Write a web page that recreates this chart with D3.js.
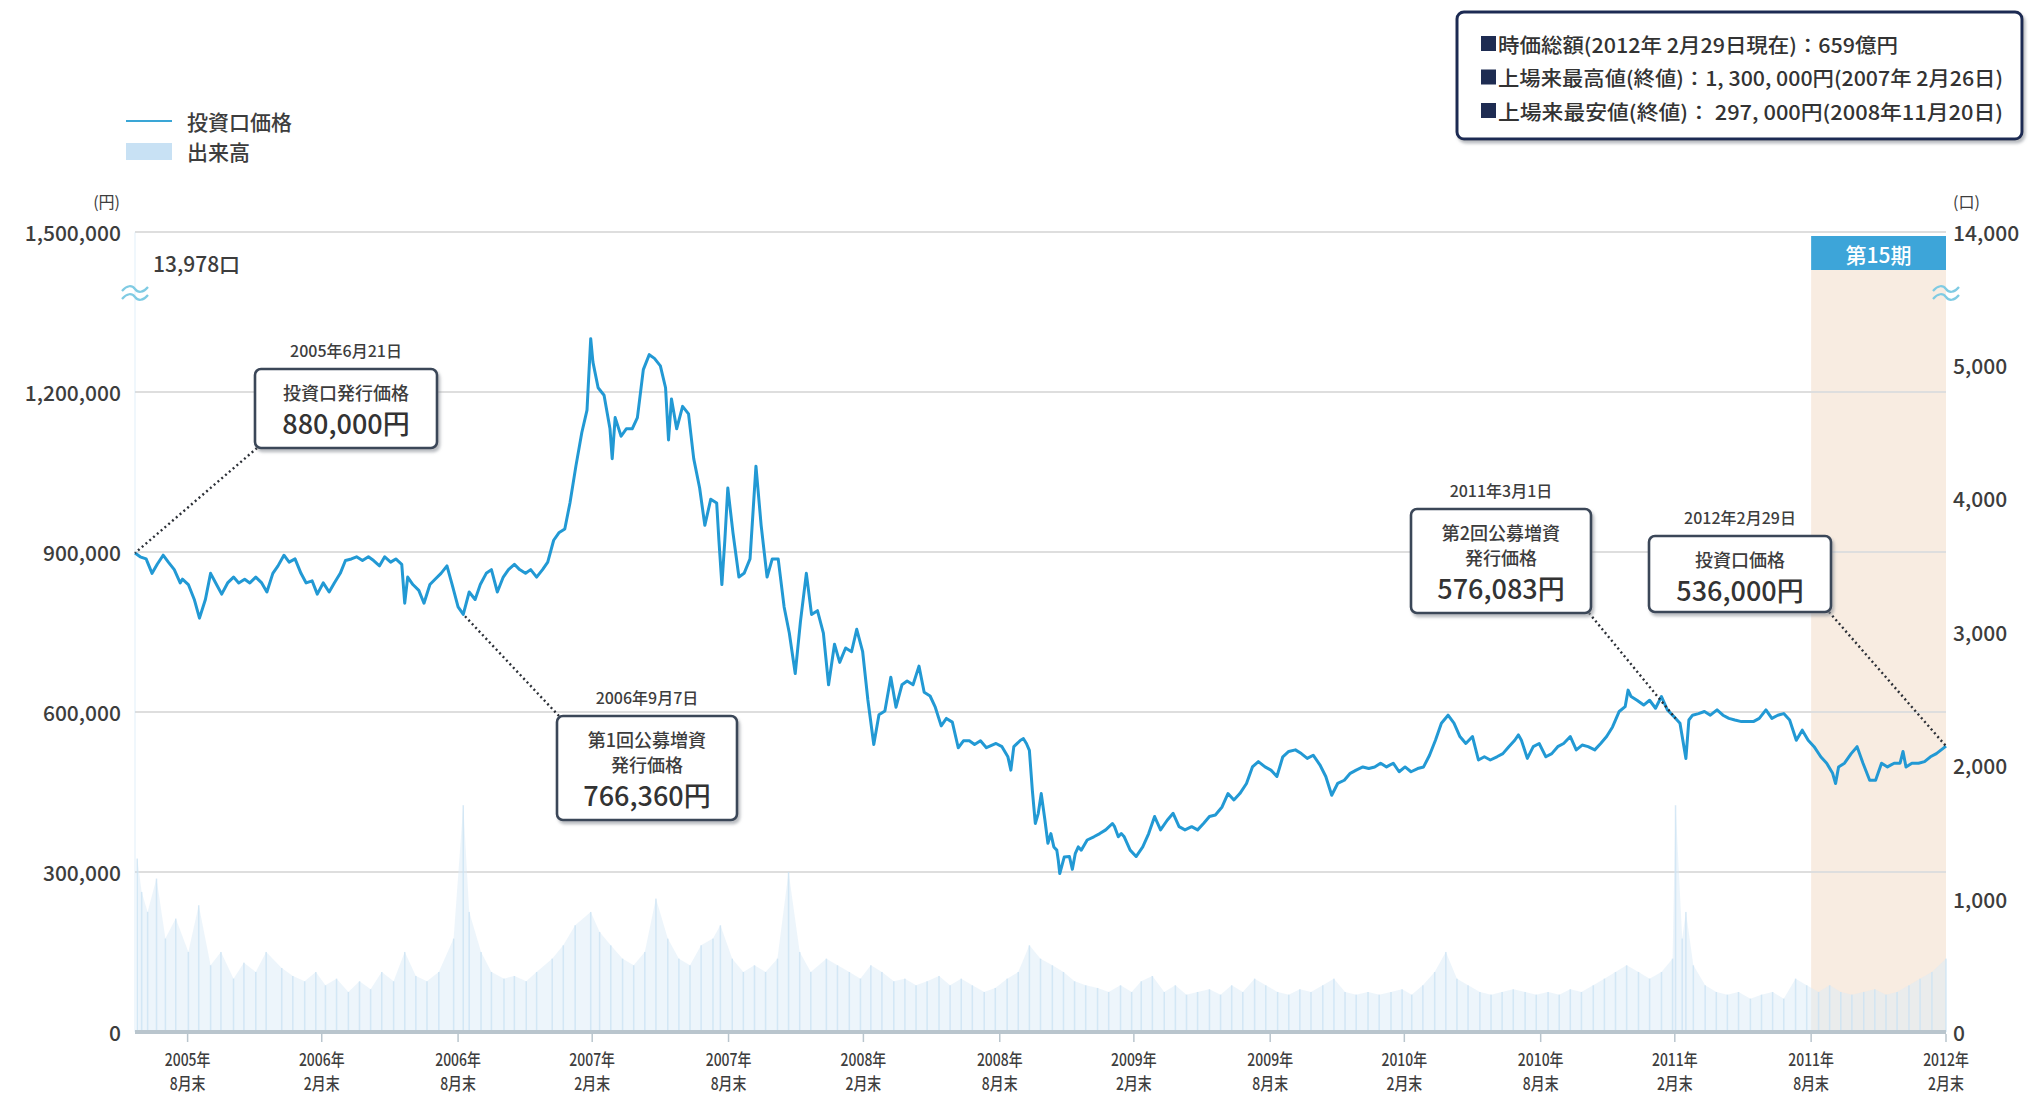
<!DOCTYPE html>
<html>
<head>
<meta charset="utf-8">
<script src="https://cdn.jsdelivr.net/npm/d3@7"></script>
<style>
  html, body { margin: 0; padding: 0; background: #ffffff; }
  svg { display: block; }
  text { font-family: "Noto Sans CJK JP", "Noto Sans", sans-serif; }
</style>
</head>
<body>
<svg id="chart" width="2031" height="1098"></svg>
<script>
// ---- data ---------------------------------------------------------------
// closing price of one unit (円)
const priceSeries = [
  ["2005-06-21", 898000], ["2005-06-28", 891000], ["2005-07-06", 887000], ["2005-07-14", 860000],
  ["2005-07-21", 877000], ["2005-07-29", 894000], ["2005-08-05", 881000], ["2005-08-13", 867000],
  ["2005-08-21", 842000], ["2005-08-24", 849000], ["2005-09-01", 839000], ["2005-09-09", 811000],
  ["2005-09-16", 776000], ["2005-09-24", 811000], ["2005-10-01", 860000], ["2005-10-09", 839000],
  ["2005-10-16", 821000], ["2005-10-24", 842000], ["2005-11-01", 853000], ["2005-11-08", 842000],
  ["2005-11-16", 849000], ["2005-11-23", 842000], ["2005-12-01", 853000], ["2005-12-09", 842000],
  ["2005-12-16", 825000], ["2005-12-24", 860000], ["2005-12-31", 874000], ["2006-01-08", 894000],
  ["2006-01-15", 881000], ["2006-01-23", 887000], ["2006-01-31", 860000], ["2006-02-07", 842000],
  ["2006-02-15", 846000], ["2006-02-22", 821000], ["2006-03-02", 842000], ["2006-03-10", 825000],
  ["2006-03-17", 842000], ["2006-03-25", 860000], ["2006-04-01", 884000], ["2006-04-09", 887000],
  ["2006-04-16", 891000], ["2006-04-24", 884000], ["2006-05-02", 891000], ["2006-05-09", 884000],
  ["2006-05-17", 874000], ["2006-05-24", 891000], ["2006-06-01", 881000], ["2006-06-08", 887000],
  ["2006-06-16", 877000], ["2006-06-20", 804000], ["2006-06-24", 853000], ["2006-07-01", 839000],
  ["2006-07-09", 828000], ["2006-07-16", 804000], ["2006-07-24", 839000], ["2006-07-31", 849000],
  ["2006-08-08", 860000], ["2006-08-16", 874000], ["2006-08-23", 839000], ["2006-08-31", 797000],
  ["2006-09-07", 783000], ["2006-09-15", 825000], ["2006-09-23", 811000], ["2006-09-30", 839000],
  ["2006-10-08", 860000], ["2006-10-15", 867000], ["2006-10-23", 825000], ["2006-10-31", 853000],
  ["2006-11-07", 867000], ["2006-11-15", 877000], ["2006-11-22", 867000], ["2006-11-30", 860000],
  ["2006-12-07", 867000], ["2006-12-15", 853000], ["2006-12-23", 867000], ["2006-12-30", 881000],
  ["2007-01-07", 922000], ["2007-01-14", 936000], ["2007-01-22", 943000], ["2007-01-29", 992000],
  ["2007-02-06", 1061000], ["2007-02-14", 1124000], ["2007-02-21", 1166000], ["2007-02-26", 1300000],
  ["2007-03-01", 1256000], ["2007-03-08", 1208000], ["2007-03-16", 1194000], ["2007-03-24", 1131000],
  ["2007-03-27", 1075000], ["2007-03-31", 1152000], ["2007-04-08", 1117000], ["2007-04-15", 1131000],
  ["2007-04-23", 1131000], ["2007-04-30", 1152000], ["2007-05-08", 1242000], ["2007-05-16", 1270000],
  ["2007-05-23", 1263000], ["2007-05-31", 1249000], ["2007-06-07", 1208000], ["2007-06-11", 1110000],
  ["2007-06-15", 1187000], ["2007-06-22", 1131000], ["2007-06-30", 1173000], ["2007-07-08", 1159000],
  ["2007-07-15", 1075000], ["2007-07-23", 1020000], ["2007-07-30", 950000], ["2007-08-07", 999000],
  ["2007-08-15", 992000], ["2007-08-18", 922000], ["2007-08-22", 839000], ["2007-08-26", 922000],
  ["2007-08-30", 1020000], ["2007-09-06", 936000], ["2007-09-14", 853000], ["2007-09-21", 860000],
  ["2007-09-29", 887000], ["2007-10-07", 1061000], ["2007-10-14", 950000], ["2007-10-22", 853000],
  ["2007-10-29", 887000], ["2007-11-06", 887000], ["2007-11-14", 797000], ["2007-11-21", 748000],
  ["2007-11-29", 672000], ["2007-12-06", 769000], ["2007-12-14", 860000], ["2007-12-21", 783000],
  ["2007-12-29", 790000], ["2008-01-06", 748000], ["2008-01-13", 651000], ["2008-01-21", 727000],
  ["2008-01-28", 693000], ["2008-02-05", 720000], ["2008-02-13", 713000], ["2008-02-20", 755000],
  ["2008-02-28", 713000], ["2008-03-06", 623000], ["2008-03-14", 539000], ["2008-03-21", 595000],
  ["2008-03-29", 602000], ["2008-04-06", 665000], ["2008-04-13", 609000], ["2008-04-21", 651000],
  ["2008-04-28", 658000], ["2008-05-06", 651000], ["2008-05-14", 686000], ["2008-05-21", 637000],
  ["2008-05-29", 630000], ["2008-06-05", 609000], ["2008-06-13", 574000], ["2008-06-20", 588000],
  ["2008-06-28", 581000], ["2008-07-06", 533000], ["2008-07-13", 546000], ["2008-07-21", 546000],
  ["2008-07-28", 539000], ["2008-08-05", 546000], ["2008-08-13", 533000], ["2008-08-26", 541000],
  ["2008-09-03", 535000], ["2008-09-11", 516000], ["2008-09-15", 491000], ["2008-09-19", 535000],
  ["2008-09-28", 547000], ["2008-10-02", 550000], ["2008-10-06", 541000], ["2008-10-10", 528000],
  ["2008-10-14", 453000], ["2008-10-18", 391000], ["2008-10-22", 410000], ["2008-10-26", 447000],
  ["2008-10-31", 397000], ["2008-11-04", 354000], ["2008-11-08", 372000], ["2008-11-12", 347000],
  ["2008-11-16", 341000], ["2008-11-18", 322000], ["2008-11-20", 297000], ["2008-11-26", 328000],
  ["2008-12-03", 329000], ["2008-12-07", 305000], ["2008-12-11", 335000], ["2008-12-15", 347000],
  ["2008-12-19", 341000], ["2008-12-27", 360000], ["2009-01-05", 366000], ["2009-01-13", 372000],
  ["2009-01-21", 379000], ["2009-01-30", 391000], ["2009-02-02", 385000], ["2009-02-07", 366000],
  ["2009-02-11", 372000], ["2009-02-15", 366000], ["2009-02-23", 341000], ["2009-03-03", 329000],
  ["2009-03-12", 347000], ["2009-03-20", 372000], ["2009-03-28", 404000], ["2009-04-05", 379000],
  ["2009-04-14", 397000], ["2009-04-22", 410000], ["2009-04-30", 385000], ["2009-05-08", 379000],
  ["2009-05-17", 385000], ["2009-05-25", 379000], ["2009-06-02", 391000], ["2009-06-10", 404000],
  ["2009-06-18", 407000], ["2009-06-27", 422000], ["2009-07-05", 447000], ["2009-07-13", 435000],
  ["2009-07-21", 447000], ["2009-07-30", 466000], ["2009-08-07", 497000], ["2009-08-15", 507000],
  ["2009-08-24", 497000], ["2009-09-01", 491000], ["2009-09-09", 479000], ["2009-09-17", 516000],
  ["2009-09-25", 526000], ["2009-10-04", 529000], ["2009-10-12", 522000], ["2009-10-20", 513000],
  ["2009-10-28", 519000], ["2009-11-06", 501000], ["2009-11-14", 479000], ["2009-11-22", 444000],
  ["2009-11-30", 466000], ["2009-12-09", 472000], ["2009-12-17", 485000], ["2009-12-25", 491000],
  ["2010-01-03", 497000], ["2010-01-11", 494000], ["2010-01-19", 497000], ["2010-01-27", 504000],
  ["2010-02-04", 497000], ["2010-02-13", 504000], ["2010-02-21", 488000], ["2010-03-01", 497000],
  ["2010-03-09", 488000], ["2010-03-18", 494000], ["2010-03-26", 497000], ["2010-04-03", 519000],
  ["2010-04-11", 547000], ["2010-04-19", 579000], ["2010-04-28", 594000], ["2010-05-06", 579000],
  ["2010-05-14", 554000], ["2010-05-22", 541000], ["2010-05-31", 554000], ["2010-06-08", 510000],
  ["2010-06-16", 516000], ["2010-06-24", 510000], ["2010-07-03", 516000], ["2010-07-11", 522000],
  ["2010-07-19", 535000], ["2010-07-27", 547000], ["2010-08-01", 557000], ["2010-08-05", 547000],
  ["2010-08-13", 513000], ["2010-08-21", 535000], ["2010-08-29", 541000], ["2010-09-07", 516000],
  ["2010-09-15", 522000], ["2010-09-23", 535000], ["2010-10-01", 541000], ["2010-10-10", 554000],
  ["2010-10-18", 529000], ["2010-10-26", 538000], ["2010-11-03", 535000], ["2010-11-12", 529000],
  ["2010-11-20", 541000], ["2010-11-28", 554000], ["2010-12-06", 572000], ["2010-12-15", 601000],
  ["2010-12-23", 610000], ["2010-12-27", 641000], ["2010-12-31", 629000], ["2011-01-08", 622000],
  ["2011-01-17", 613000], ["2011-01-25", 622000], ["2011-02-02", 607000], ["2011-02-10", 629000],
  ["2011-02-18", 604000], ["2011-02-27", 591000], ["2011-03-07", 579000], ["2011-03-15", 513000],
  ["2011-03-19", 585000], ["2011-03-24", 594000], ["2011-04-01", 597000], ["2011-04-09", 601000],
  ["2011-04-17", 594000], ["2011-04-26", 604000], ["2011-05-04", 594000], ["2011-05-12", 588000],
  ["2011-05-20", 585000], ["2011-05-29", 582000], ["2011-06-06", 582000], ["2011-06-14", 582000],
  ["2011-06-22", 588000], ["2011-07-01", 604000], ["2011-07-09", 588000], ["2011-07-17", 594000],
  ["2011-07-25", 597000], ["2011-08-02", 585000], ["2011-08-11", 547000], ["2011-08-19", 566000],
  ["2011-08-27", 547000], ["2011-09-04", 535000], ["2011-09-13", 516000], ["2011-09-21", 504000],
  ["2011-09-29", 485000], ["2011-10-03", 466000], ["2011-10-07", 497000], ["2011-10-15", 504000],
  ["2011-10-24", 522000], ["2011-11-01", 535000], ["2011-11-09", 504000], ["2011-11-18", 472000],
  ["2011-11-26", 472000], ["2011-12-04", 504000], ["2011-12-12", 497000], ["2011-12-21", 504000],
  ["2011-12-29", 504000], ["2012-01-02", 526000], ["2012-01-06", 497000], ["2012-01-14", 504000],
  ["2012-01-23", 504000], ["2012-01-31", 507000], ["2012-02-08", 516000], ["2012-02-16", 522000],
  ["2012-02-29", 536000]
];

// trading volume (口)
const volumeSeries = [
  ["2005-06-21", 13978], ["2005-06-24", 1300], ["2005-06-30", 1050], ["2005-07-08", 900],
  ["2005-07-20", 1150], ["2005-08-01", 700], ["2005-08-15", 850], ["2005-09-01", 600],
  ["2005-09-15", 950], ["2005-10-01", 500], ["2005-10-15", 600], ["2005-11-01", 400],
  ["2005-11-15", 520], ["2005-12-01", 450], ["2005-12-15", 600], ["2006-01-05", 480],
  ["2006-01-20", 420], ["2006-02-05", 380], ["2006-02-20", 450], ["2006-03-05", 350],
  ["2006-03-20", 400], ["2006-04-05", 300], ["2006-04-20", 380], ["2006-05-05", 320],
  ["2006-05-20", 450], ["2006-06-05", 380], ["2006-06-20", 600], ["2006-07-05", 420],
  ["2006-07-20", 380], ["2006-08-05", 450], ["2006-08-25", 700], ["2006-09-07", 1700],
  ["2006-09-15", 900], ["2006-10-01", 600], ["2006-10-15", 450], ["2006-11-01", 400],
  ["2006-11-15", 420], ["2006-12-01", 380], ["2006-12-15", 450], ["2007-01-05", 550],
  ["2007-01-20", 650], ["2007-02-05", 800], ["2007-02-26", 900], ["2007-03-10", 750],
  ["2007-03-25", 650], ["2007-04-10", 550], ["2007-04-25", 500], ["2007-05-10", 600],
  ["2007-05-25", 1000], ["2007-06-10", 700], ["2007-06-25", 550], ["2007-07-10", 500],
  ["2007-07-25", 650], ["2007-08-10", 700], ["2007-08-20", 800], ["2007-09-05", 550],
  ["2007-09-20", 450], ["2007-10-05", 500], ["2007-10-20", 450], ["2007-11-05", 550],
  ["2007-11-20", 1200], ["2007-12-05", 600], ["2007-12-20", 450], ["2008-01-10", 550],
  ["2008-01-25", 500], ["2008-02-10", 450], ["2008-02-25", 400], ["2008-03-10", 500],
  ["2008-03-25", 450], ["2008-04-10", 380], ["2008-04-25", 400], ["2008-05-10", 350],
  ["2008-05-25", 380], ["2008-06-10", 420], ["2008-06-25", 350], ["2008-07-10", 400],
  ["2008-07-25", 350], ["2008-08-10", 300], ["2008-08-25", 330], ["2008-09-10", 400],
  ["2008-09-25", 450], ["2008-10-10", 650], ["2008-10-25", 550], ["2008-11-10", 500],
  ["2008-11-25", 450], ["2008-12-10", 380], ["2008-12-25", 350], ["2009-01-10", 330],
  ["2009-01-25", 300], ["2009-02-10", 350], ["2009-02-25", 300], ["2009-03-10", 380],
  ["2009-03-25", 420], ["2009-04-10", 300], ["2009-04-25", 350], ["2009-05-10", 280],
  ["2009-05-25", 300], ["2009-06-10", 320], ["2009-06-25", 280], ["2009-07-10", 350],
  ["2009-07-25", 300], ["2009-08-10", 400], ["2009-08-25", 350], ["2009-09-10", 300],
  ["2009-09-25", 280], ["2009-10-10", 320], ["2009-10-25", 300], ["2009-11-10", 350],
  ["2009-11-25", 400], ["2009-12-10", 300], ["2009-12-25", 280], ["2010-01-10", 300],
  ["2010-01-25", 280], ["2010-02-10", 300], ["2010-02-25", 320], ["2010-03-10", 280],
  ["2010-03-25", 350], ["2010-04-10", 450], ["2010-04-25", 600], ["2010-05-10", 400],
  ["2010-05-25", 350], ["2010-06-10", 300], ["2010-06-25", 280], ["2010-07-10", 300],
  ["2010-07-25", 320], ["2010-08-10", 300], ["2010-08-25", 280], ["2010-09-10", 300],
  ["2010-09-25", 280], ["2010-10-10", 320], ["2010-10-25", 300], ["2010-11-10", 350],
  ["2010-11-25", 400], ["2010-12-10", 450], ["2010-12-25", 500], ["2011-01-10", 450],
  ["2011-01-25", 400], ["2011-02-10", 450], ["2011-02-25", 550], ["2011-03-01", 1700],
  ["2011-03-10", 700], ["2011-03-15", 900], ["2011-03-25", 500], ["2011-04-10", 350],
  ["2011-04-25", 300], ["2011-05-10", 280], ["2011-05-25", 300], ["2011-06-10", 250],
  ["2011-06-25", 280], ["2011-07-10", 300], ["2011-07-25", 250], ["2011-08-10", 400],
  ["2011-08-25", 350], ["2011-09-10", 300], ["2011-09-25", 350], ["2011-10-10", 300],
  ["2011-10-25", 280], ["2011-11-10", 300], ["2011-11-25", 320], ["2011-12-10", 280],
  ["2011-12-25", 300], ["2012-01-10", 350], ["2012-01-25", 400], ["2012-02-10", 450],
  ["2012-02-29", 550]
];

const priceTicks = [0, 300000, 600000, 900000, 1200000, 1500000];
const volumeTicks = [0, 1000, 2000, 3000, 4000, 5000, 14000];
const xTickDates = ["2005-08-31", "2006-02-28", "2006-08-31", "2007-02-28", "2007-08-31",
  "2008-02-29", "2008-08-31", "2009-02-28", "2009-08-31", "2010-02-28", "2010-08-31",
  "2011-02-28", "2011-08-31", "2012-02-29"];
const xTickLabels = [["2005年", "8月末"], ["2006年", "2月末"], ["2006年", "8月末"], ["2007年", "2月末"],
  ["2007年", "8月末"], ["2008年", "2月末"], ["2008年", "8月末"], ["2009年", "2月末"], ["2009年", "8月末"],
  ["2010年", "2月末"], ["2010年", "8月末"], ["2011年", "2月末"], ["2011年", "8月末"], ["2012年", "2月末"]];

const periodStart = "2011-08-31";
const periodEnd = "2012-02-29";
const periodLabel = "第15期";

const infoLines = [
  "時価総額(2012年 2月29日現在)：659億円",
  "上場来最高値(終値)：1, 300, 000円(2007年 2月26日)",
  "上場来最安値(終値)：  297, 000円(2008年11月20日)"
];
const firstDayVolumeLabel = "13,978口";

const annotationDates = ["2005-06-21", "2006-09-07", "2011-03-01", "2012-02-29"];
const annotationTitles = ["2005年6月21日", "2006年9月7日", "2011年3月1日", "2012年2月29日"];
const annotationCaptions = [["投資口発行価格"], ["第1回公募増資", "発行価格"], ["第2回公募増資", "発行価格"], ["投資口価格"]];
const annotationValues = ["880,000円", "766,360円", "576,083円", "536,000円"];

// ---- layout -------------------------------------------------------------
const plot = { left: 135, right: 1946, top: 232, bottom: 1032 };
const parse = d3.timeParse("%Y-%m-%d");

const prices = priceSeries.map(([d, v]) => ({ date: parse(d), v }));
const volumes = volumeSeries.map(([d, v]) => ({ date: parse(d), v }));

const x = d3.scaleTime()
  .domain([parse("2005-06-21"), parse("2012-02-29")])
  .range([plot.left, plot.right]);
const y = d3.scaleLinear().domain([0, 1500000]).range([plot.bottom, plot.top]);
// volume axis is broken above 5,000 so the listing-day volume still fits
const yv = d3.scaleLinear().domain([0, 5000, 14000]).range([plot.bottom, 365, plot.top]);

const svg = d3.select("#chart");
const TEXT = "#3d3d3d";

const defs = svg.append("defs");
const shadow = defs.append("filter").attr("id", "boxShadow")
  .attr("x", "-10%").attr("y", "-10%").attr("width", "130%").attr("height", "140%");
shadow.append("feDropShadow").attr("dx", 2).attr("dy", 3).attr("stdDeviation", 1.5)
  .attr("flood-color", "#8a8f96").attr("flood-opacity", 0.6);

// period 15 band
const px0 = x(parse(periodStart)), px1 = x(parse(periodEnd));
svg.append("rect")
  .attr("x", px0).attr("y", 270).attr("width", px1 - px0).attr("height", plot.bottom - 270)
  .attr("fill", "#f8ece1");
svg.append("rect")
  .attr("x", px0).attr("y", 236).attr("width", px1 - px0).attr("height", 34)
  .attr("fill", "#3da5d9");
svg.append("text")
  .attr("x", (px0 + px1) / 2).attr("y", 254)
  .attr("text-anchor", "middle").attr("dominant-baseline", "central")
  .attr("fill", "#ffffff").attr("font-size", 21).attr("font-weight", 500)
  .text(periodLabel);

// grid lines
svg.append("g").selectAll("line")
  .data(priceTicks.filter(t => t > 0))
  .join("line")
  .attr("x1", plot.left).attr("x2", plot.right)
  .attr("y1", d => y(d)).attr("y2", d => y(d))
  .attr("stroke", "#dedede").attr("stroke-width", 2);

// volume: faint area with hairline bars on top
svg.append("path")
  .datum(volumes.slice(1))
  .attr("d", d3.area().x(d => x(d.date)).y0(plot.bottom).y1(d => yv(d.v)))
  .attr("fill", "#dcebf7").attr("opacity", 0.5);
svg.append("g").selectAll("rect")
  .data(volumes)
  .join("rect")
  .attr("x", d => x(d.date) - 0.75)
  .attr("width", 1.5)
  .attr("y", d => yv(d.v))
  .attr("height", d => plot.bottom - yv(d.v))
  .attr("fill", "#c9e1f3")
  .attr("opacity", d => d.v > 5000 ? 0.35 : 0.75);

// x axis baseline and ticks
svg.append("line")
  .attr("x1", plot.left).attr("x2", plot.right)
  .attr("y1", plot.bottom).attr("y2", plot.bottom)
  .attr("stroke", "#b9c5cd").attr("stroke-width", 4);
const xt = svg.append("g").selectAll("g")
  .data(xTickDates.map((d, i) => ({ date: parse(d), label: xTickLabels[i] })))
  .join("g")
  .attr("transform", d => `translate(${x(d.date)},0)`);
xt.append("line").attr("y1", plot.bottom + 2).attr("y2", plot.bottom + 10)
  .attr("stroke", "#b9c5cd").attr("stroke-width", 1.5);
xt.each(function (d) {
  const g = d3.select(this);
  d.label.forEach((t, i) => {
    g.append("text")
      .attr("transform", `translate(0,${1058 + i * 24}) scale(0.82,1)`)
      .attr("text-anchor", "middle").attr("dominant-baseline", "central")
      .attr("fill", TEXT).attr("font-size", 17).attr("font-weight", 500)
      .text(t);
  });
});

// left axis labels
svg.append("g").selectAll("text")
  .data(priceTicks)
  .join("text")
  .attr("x", 121).attr("y", d => y(d))
  .attr("text-anchor", "end").attr("dominant-baseline", "central")
  .attr("fill", TEXT).attr("font-size", 21).attr("font-weight", 500)
  .text(d => d3.format(",")(d));
svg.append("text").attr("x", 120).attr("y", 201).attr("text-anchor", "end")
  .attr("dominant-baseline", "central").attr("fill", TEXT).attr("font-size", 16)
  .text("(円)");

// right axis labels
svg.append("g").selectAll("text")
  .data(volumeTicks)
  .join("text")
  .attr("x", 1953).attr("y", d => yv(d))
  .attr("dominant-baseline", "central")
  .attr("fill", TEXT).attr("font-size", 21).attr("font-weight", 500)
  .text(d => d3.format(",")(d));
svg.append("text").attr("x", 1953).attr("y", 201)
  .attr("dominant-baseline", "central").attr("fill", TEXT).attr("font-size", 16)
  .text("(口)");

// axis break marks
function breakMark(cx, cy) {
  const g = svg.append("g").attr("transform", `translate(${cx},${cy})`);
  [-4, 4].forEach(dy => {
    g.append("path")
      .attr("d", `M-13,${dy + 2} C-8,${dy - 4} -3,${dy - 4} 0,${dy} S8,${dy + 4} 13,${dy - 2}`)
      .attr("fill", "none").attr("stroke", "#7fcbe3").attr("stroke-width", 2.2);
  });
}
breakMark(plot.left, 293);
breakMark(plot.right, 293);

svg.append("text").attr("x", 153).attr("y", 263)
  .attr("dominant-baseline", "central").attr("fill", TEXT)
  .attr("font-size", 21).attr("font-weight", 500)
  .text(firstDayVolumeLabel);

// price line
svg.append("path")
  .datum(prices)
  .attr("d", d3.line().x(d => x(d.date)).y(d => y(d.v)))
  .attr("fill", "none").attr("stroke", "#2299d4").attr("stroke-width", 3)
  .attr("stroke-linejoin", "round");

// annotations
const bisect = d3.bisector(d => d.date).left;
function priceAt(date) {
  const i = bisect(prices, date);
  if (i <= 0) return prices[0].v;
  if (i >= prices.length) return prices[prices.length - 1].v;
  const a = prices[i - 1], b = prices[i];
  const t = (date - a.date) / (b.date - a.date);
  return a.v + (b.v - a.v) * t;
}
// box geometry for each callout and the corner the leader line leaves from
const boxes = [
  { x: 255, y: 369, w: 182, h: 79, corner: "bl" },
  { x: 557, y: 716, w: 180, h: 104, corner: "tl" },
  { x: 1411, y: 509, w: 180, h: 104, corner: "br" },
  { x: 1649, y: 536, w: 182, h: 76, corner: "br" }
];
boxes.forEach((b, i) => {
  const date = parse(annotationDates[i]);
  const px = x(date), py = y(priceAt(date));
  const cx = b.corner.endsWith("l") ? b.x + 2 : b.x + b.w - 2;
  const cy = b.corner.startsWith("t") ? b.y : b.y + b.h;
  svg.append("line")
    .attr("x1", cx).attr("y1", cy).attr("x2", px).attr("y2", py)
    .attr("stroke", "#2b2f36").attr("stroke-width", 2.4)
    .attr("stroke-dasharray", "2 3");
  svg.append("rect")
    .attr("x", b.x).attr("y", b.y).attr("width", b.w).attr("height", b.h)
    .attr("rx", 6).attr("fill", "#ffffff")
    .attr("stroke", "#3a4658").attr("stroke-width", 2.6)
    .attr("filter", "url(#boxShadow)");
  svg.append("text")
    .attr("x", b.x + b.w / 2).attr("y", b.y - 19)
    .attr("text-anchor", "middle").attr("dominant-baseline", "central")
    .attr("fill", TEXT).attr("font-size", 16).attr("font-weight", 500)
    .text(annotationTitles[i]);
  const caps = annotationCaptions[i];
  caps.forEach((c, j) => {
    svg.append("text")
      .attr("x", b.x + b.w / 2).attr("y", b.y + 23 + j * 25)
      .attr("text-anchor", "middle").attr("dominant-baseline", "central")
      .attr("fill", TEXT).attr("font-size", 18).attr("font-weight", 500)
      .text(c);
  });
  svg.append("text")
    .attr("x", b.x + b.w / 2).attr("y", b.y + 23 + caps.length * 25 + 5)
    .attr("text-anchor", "middle").attr("dominant-baseline", "central")
    .attr("fill", "#333333").attr("font-size", 27).attr("font-weight", 500)
    .text(annotationValues[i]);
});

// legend
svg.append("line").attr("x1", 126).attr("x2", 172).attr("y1", 121).attr("y2", 121)
  .attr("stroke", "#3aa6d6").attr("stroke-width", 2);
svg.append("text").attr("x", 187).attr("y", 121).attr("dominant-baseline", "central")
  .attr("fill", TEXT).attr("font-size", 21).attr("font-weight", 500).text("投資口価格");
svg.append("rect").attr("x", 126).attr("y", 143).attr("width", 46).attr("height", 17)
  .attr("fill", "#c8e1f4");
svg.append("text").attr("x", 187).attr("y", 151).attr("dominant-baseline", "central")
  .attr("fill", TEXT).attr("font-size", 21).attr("font-weight", 500).text("出来高");

// info box
svg.append("rect").attr("x", 1457).attr("y", 12).attr("width", 565).attr("height", 127)
  .attr("rx", 7).attr("fill", "#ffffff").attr("stroke", "#1e2c52").attr("stroke-width", 3)
  .attr("filter", "url(#boxShadow)");
infoLines.forEach((t, i) => {
  const ly = 44 + i * 33.5;
  svg.append("rect").attr("x", 1481).attr("y", ly - 8).attr("width", 15).attr("height", 15)
    .attr("fill", "#1e2c52");
  svg.append("text").attr("x", 1498).attr("y", ly).attr("dominant-baseline", "central")
    .attr("fill", "#333333").attr("font-size", 20).attr("font-weight", 500)
    .attr("textLength", i === 0 ? 400 : 505).attr("lengthAdjust", "spacingAndGlyphs")
    .text(t);
});
</script>
</body>
</html>
